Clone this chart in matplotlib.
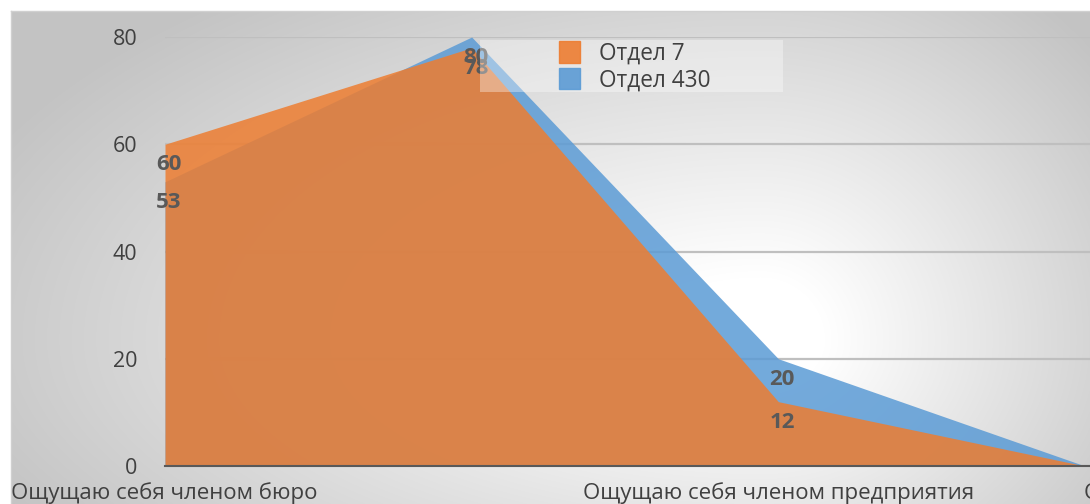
import matplotlib.pyplot as plt
import numpy as np
from matplotlib.patches import Patch, Rectangle

categories = ['Ощущаю себя членом бюро', '', 'Ощущаю себя членом предприятия', 'О']
otdel_7 = [60, 78, 12, 0]
otdel_430 = [53, 80, 20, 0]
series_names = ['Отдел 7', 'Отдел 430']
yticks = [0, 20, 40, 60, 80]

ORANGE = '#ED7D31'
BLUE = '#5B9BD5'
TEXT = '#404040'
LABEL = '#595959'

plt.rcParams['font.family'] = ['Open Sans', 'DejaVu Sans']

W, H = 1090, 504
fig = plt.figure(figsize=(W / 100, H / 100), dpi=100)

# chart-area background: radial-ish gray gradient
bg = fig.add_axes([11 / W, 0, 1 - 11 / W, 1 - 11 / H], zorder=-5)
yy, xx = np.mgrid[11:H, 11:W]
cx, cy = 760, 340
dx = np.where(xx < cx, (xx - cx) / 820, (xx - cx) / 430)
dy = np.where(yy < cy, (yy - cy) / 420, (yy - cy) / 330)
r = np.sqrt(dx ** 2 + dy ** 2)
t = np.clip((r - 0.15) / 0.9, 0, 1)
gray = (255 - 60 * t) / 255
bg.imshow(np.dstack([gray] * 3), aspect='auto', extent=(0, 1, 0, 1))
bg.set_axis_off()
fig.add_artist(plt.Line2D([11 / W, 1], [1 - 11 / H] * 2, color='#D0D0D0', lw=1))
fig.add_artist(plt.Line2D([11 / W] * 2, [0, 1 - 11 / H], color='#D0D0D0', lw=1))

ax = fig.add_axes([165 / W, (H - 466) / H, (W - 165) / W, (466 - 37) / H])
ax.patch.set_alpha(0)
x = np.arange(len(categories))
ax.fill_between(x, otdel_430, color=BLUE, alpha=0.85, lw=0, zorder=2, clip_on=False)
ax.fill_between(x, otdel_7, color=ORANGE, alpha=0.85, lw=0, zorder=3, clip_on=False)

ax.set_xlim(0, 3 + 5 / 306.7)
ax.set_ylim(0, 80)
ax.set_yticks(yticks)
ax.yaxis.grid(True, color='#BFBFBF', lw=1.6, zorder=1)
ax.set_axisbelow(True)
for s in ['top', 'right', 'left']:
    ax.spines[s].set_visible(False)
ax.spines['bottom'].set_color('#595959')
ax.spines['bottom'].set_linewidth(1.5)
ax.spines['bottom'].set_zorder(4)
ax.tick_params(axis='y', length=0, pad=20, labelsize=15.5, labelcolor=TEXT)
ax.tick_params(axis='x', length=0, labelbottom=False)

# category labels (Excel shifts the first one into the chart area)
ax.text(-0.502, -5.1, categories[0], ha='left', va='center', fontsize=16,
        color=TEXT, clip_on=False)
ax.text(x[2], -5.1, categories[2], ha='center', va='center', fontsize=16,
        color=TEXT, clip_on=False)
ax.text(x[3] - 0.005, -5.1, categories[3], ha='left', va='center', fontsize=16,
        color=TEXT, clip_on=False)

# data labels
for vals in (otdel_7, otdel_430):
    for i in range(3):
        ax.annotate(str(vals[i]), (x[i], vals[i]), xytext=(4, -10),
                    textcoords='offset pixels', ha='center', va='top',
                    fontsize=16, fontweight='bold', color=LABEL, zorder=6)

# legend with translucent panel
fig.add_artist(Rectangle((480 / W, 1 - 92 / H), 303 / W, 52 / H,
                         transform=fig.transFigure, facecolor='white',
                         alpha=0.35, lw=0, zorder=7))
handles = [Patch(color=ORANGE, alpha=0.9), Patch(color=BLUE, alpha=0.9)]
leg = fig.legend(handles, series_names, loc='upper left',
                 bbox_to_anchor=(541 / W, 1 - 23 / H), frameon=False,
                 fontsize=16.3, handlelength=0.93, handleheight=1.1,
                 handletextpad=0.84, labelspacing=0.09, borderpad=0.3)
leg.set_zorder(8)
for t_ in leg.get_texts():
    t_.set_color(TEXT)

fig.savefig('out.png', dpi=100)
